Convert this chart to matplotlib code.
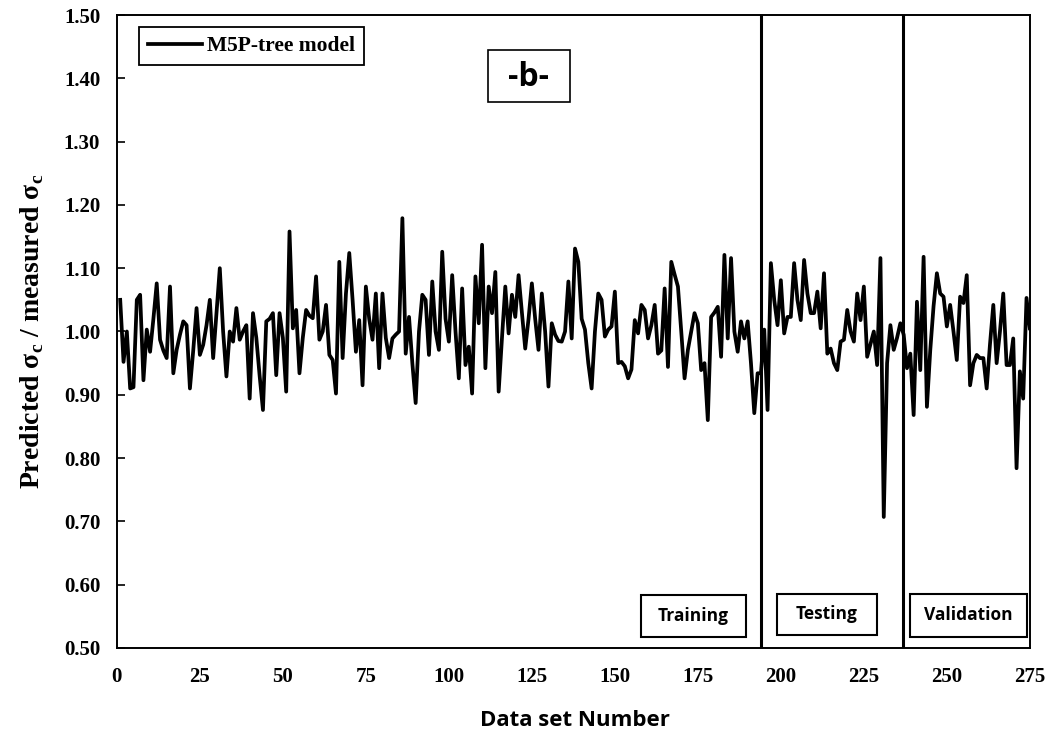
import numpy as np
import matplotlib.pyplot as plt
from matplotlib.patches import Rectangle

# predicted / measured uniaxial compressive strength, M5P-tree model
ratio = [
    1.050, 0.952, 1.000, 0.910, 0.912, 1.050, 1.058, 0.923, 1.003, 0.968,
    1.020, 1.076, 0.987, 0.970, 0.958, 1.071, 0.934, 0.971, 0.995, 1.016,
    1.010, 0.910, 0.970, 1.037, 0.963, 0.979, 1.010, 1.050, 0.958, 1.030,
    1.100, 1.000, 0.929, 1.000, 0.984, 1.037, 0.987, 1.000, 1.010, 0.894,
    1.029, 0.990, 0.930, 0.876, 1.016, 1.020, 1.029, 0.931, 1.029, 0.990,
    0.905, 1.158, 1.005, 1.034, 0.934, 0.990, 1.034, 1.025, 1.021, 1.087,
    0.987, 1.000, 1.042, 0.963, 0.955, 0.902, 1.110, 0.958, 1.060, 1.124,
    1.050, 0.968, 1.018, 0.915, 1.071, 1.020, 0.987, 1.060, 0.942, 1.060,
    0.990, 0.958, 0.989, 0.995, 1.000, 1.179, 0.965, 1.023, 0.950, 0.887,
    1.000, 1.058, 1.050, 0.963, 1.079, 1.000, 0.971, 1.126, 1.020, 0.984,
    1.089, 1.000, 0.926, 1.068, 0.947, 0.976, 0.902, 1.087, 1.013, 1.137,
    0.942, 1.071, 1.029, 1.094, 0.905, 0.990, 1.071, 0.997, 1.058, 1.023,
    1.089, 1.030, 0.973, 1.020, 1.076, 1.020, 0.971, 1.060, 1.000, 0.913,
    1.013, 0.995, 0.985, 0.984, 1.000, 1.079, 0.989, 1.131, 1.110, 1.020,
    1.003, 0.950, 0.910, 1.000, 1.060, 1.050, 0.992, 1.003, 1.008, 1.063,
    0.950, 0.952, 0.945, 0.926, 0.940, 1.018, 0.997, 1.042, 1.034, 0.989,
    1.010, 1.042, 0.965, 0.970, 1.068, 0.944, 1.110, 1.090, 1.071, 1.000,
    0.926, 0.971, 1.000, 1.029, 1.013, 0.939, 0.950, 0.860, 1.023, 1.030,
    1.039, 0.960, 1.121, 0.989, 1.116, 1.000, 0.968, 1.016, 0.989, 1.016,
    0.950, 0.871, 0.934, 0.934, 1.003, 0.876, 1.108, 1.050, 1.010, 1.081,
    0.997, 1.023, 1.023, 1.108, 1.050, 1.018, 1.113, 1.060, 1.029, 1.029,
    1.063, 1.005, 1.092, 0.965, 0.973, 0.950, 0.939, 0.984, 0.987, 1.034,
    1.000, 0.984, 1.060, 1.018, 1.071, 0.960, 0.980, 1.000, 0.947, 1.116,
    0.707, 0.950, 1.010, 0.971, 0.990, 1.013, 0.995, 0.942, 0.965, 0.868,
    1.047, 0.939, 1.118, 0.881, 0.970, 1.040, 1.092, 1.060, 1.055, 1.008,
    1.042, 1.000, 0.955, 1.055, 1.045, 1.089, 0.915, 0.950, 0.963, 0.958,
    0.958, 0.910, 0.980, 1.042, 0.950, 1.000, 1.060, 0.947, 0.947, 0.989,
    0.784, 0.937, 0.894, 1.053, 1.005,
]
data_no = np.arange(1, len(ratio) + 1)

# split between training / testing / validation sets
splits = [194, 236.8]
set_names = ["Training", "Testing", "Validation"]
# label boxes: (x0, x1) in data units, y range in data units
set_box_x = [(158.0, 189.4), (198.7, 229.1), (238.8, 274.1)]
set_box_y = [(0.518, 0.584), (0.521, 0.586), (0.518, 0.586)]

x_ticks = np.arange(0, 276, 25)
y_ticks = np.arange(0.5, 1.51, 0.1)

plt.rcParams["mathtext.fontset"] = "custom"
plt.rcParams["mathtext.bf"] = "Liberation Serif:bold"
plt.rcParams["mathtext.rm"] = "Liberation Serif:bold"

fig = plt.figure(figsize=(10.53, 7.54), dpi=100)
ax = fig.add_axes([0.111, 0.1406, 0.867, 0.8395])

ax.plot(data_no, ratio, "-", color="black", lw=2.7, label="M5P-tree model",
        solid_joinstyle="round")

for s in splits:
    ax.axvline(s, color="black", lw=2.2)

ax.set_xlim(0, 275)
ax.set_ylim(0.5, 1.5)
ax.set_xticks(x_ticks)
ax.set_yticks(y_ticks)
ax.set_yticklabels([f"{v:.2f}" for v in y_ticks])
ax.tick_params(axis="x", length=0, pad=14)
ax.tick_params(axis="y", direction="in", length=6, width=1.2, pad=12)
for lab in ax.get_xticklabels() + ax.get_yticklabels():
    lab.set_fontfamily("Liberation Serif")
    lab.set_fontweight("bold")
    lab.set_fontsize(15)
for sp in ax.spines.values():
    sp.set_linewidth(1.4)

ax.set_ylabel(r"Predicted σ$_\mathbf{c}$ / measured σ$_\mathbf{c}$",
              family="Liberation Serif", fontweight="bold", fontsize=20,
              labelpad=13)
fig.text(0.546, 0.045, "Data set Number", ha="center", va="center",
         family="Open Sans", fontweight="bold", fontsize=16)

leg = ax.legend(loc="upper left", bbox_to_anchor=(0.024, 0.981),
                prop={"family": "Liberation Serif", "weight": "bold", "size": 15.5},
                fancybox=False, edgecolor="black", framealpha=1,
                handlelength=2.5, handletextpad=0.25, borderpad=0.42,
                borderaxespad=0)
leg.get_frame().set_linewidth(1.3)

# panel tag "-b-"
ax.add_patch(Rectangle((0.406, 0.862), 0.090, 0.082, transform=ax.transAxes,
                       fc="white", ec="black", lw=1.2, zorder=5))
ax.text(0.451, 0.901, "-b-", transform=ax.transAxes, ha="center", va="center",
        family="Open Sans", fontweight="bold", fontsize=23, zorder=6)

for name, (x0, x1), (y0, y1) in zip(set_names, set_box_x, set_box_y):
    ax.add_patch(Rectangle((x0, y0), x1 - x0, y1 - y0, fc="white", ec="black",
                           lw=1.5, zorder=5))
    ax.text((x0 + x1) / 2, (y0 + y1) / 2, name, ha="center", va="center",
            family="Open Sans", fontweight="bold", fontsize=12.5, zorder=6)

fig.savefig("out.png", dpi=100)
